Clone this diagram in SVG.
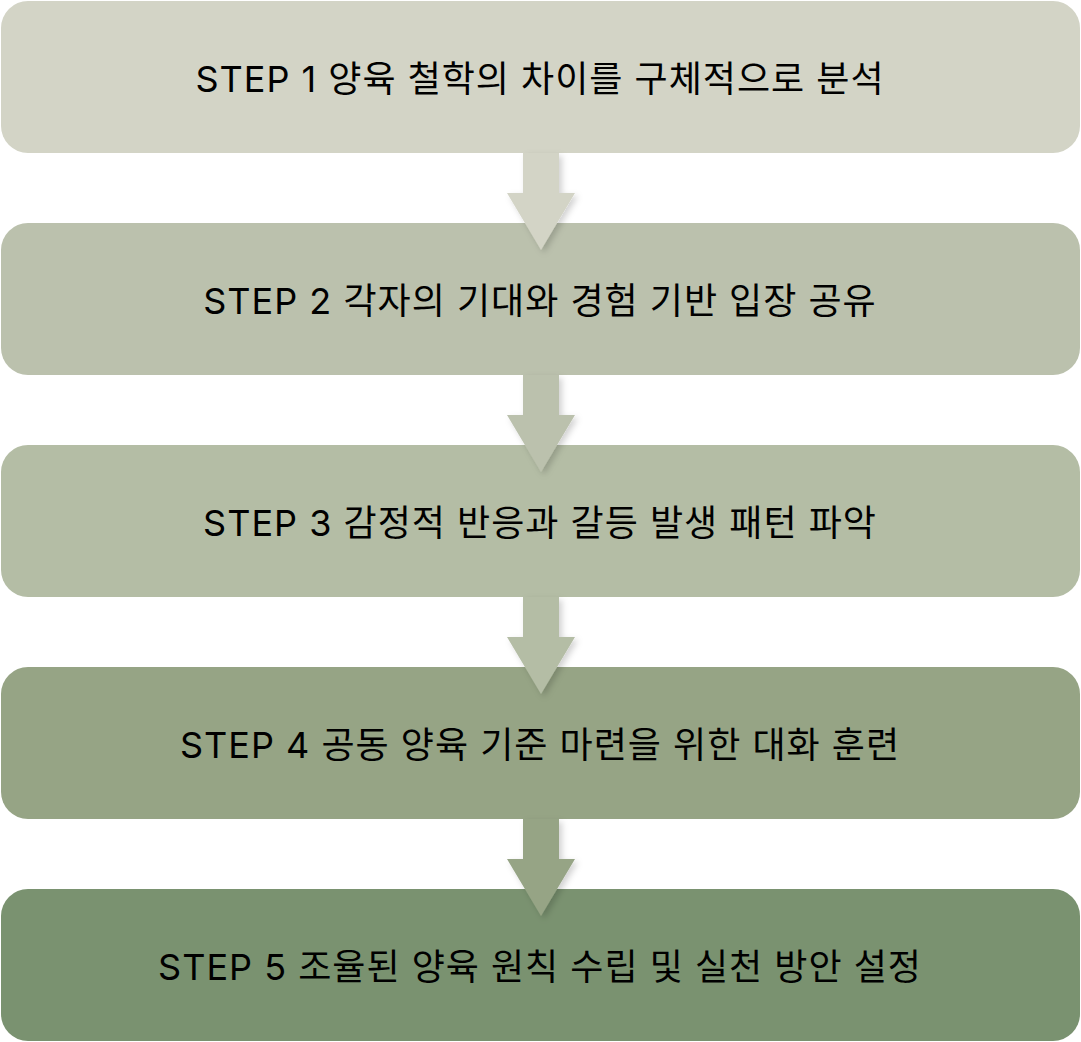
<svg xmlns="http://www.w3.org/2000/svg" width="1081" height="1042" viewBox="0 0 1081 1042">
<style>
.t{font-family:"Inter","Noto Sans CJK KR",sans-serif;font-size:36px;letter-spacing:1px;fill:#000;text-anchor:middle;dominant-baseline:central}
</style>
<defs>
<filter id="sh" x="-30%" y="-30%" width="160%" height="160%">
<feDropShadow dx="3" dy="3" stdDeviation="3" flood-color="#000" flood-opacity="0.18"/>
</filter>
</defs>
<rect width="1081" height="1042" fill="#fff"/>
<g id="node1"><rect x="1" y="1" width="1079" height="152" rx="27" fill="#D3D4C6"/><text class="t" x="540" y="79">STEP 1 양육 철학의 차이를 구체적으로 분석</text></g>
<g id="node2"><rect x="1" y="223" width="1079" height="152" rx="27" fill="#BBC1AD"/><text class="t" x="540" y="301">STEP 2 각자의 기대와 경험 기반 입장 공유</text></g>
<g id="node3"><rect x="1" y="445" width="1079" height="152" rx="27" fill="#B4BDA5"/><text class="t" x="540" y="523">STEP 3 감정적 반응과 갈등 발생 패턴 파악</text></g>
<g id="node4"><rect x="1" y="667" width="1079" height="152" rx="27" fill="#96A485"/><text class="t" x="540" y="745">STEP 4 공동 양육 기준 마련을 위한 대화 훈련</text></g>
<g id="node5"><rect x="1" y="889" width="1079" height="152" rx="27" fill="#7A9270"/><text class="t" x="540" y="967">STEP 5 조율된 양육 원칙 수립 및 실천 방안 설정</text></g>
<g id="connectors">
<path d="M523 153 H559 V193 H575 L541 250 L507 193 H523 Z" fill="#D3D4C6" filter="url(#sh)"/>
<path d="M523 375 H559 V415 H575 L541 472 L507 415 H523 Z" fill="#BBC1AD" filter="url(#sh)"/>
<path d="M523 597 H559 V637 H575 L541 694 L507 637 H523 Z" fill="#B4BDA5" filter="url(#sh)"/>
<path d="M523 819 H559 V859 H575 L541 916 L507 859 H523 Z" fill="#96A485" filter="url(#sh)"/>
</g>
</svg>
